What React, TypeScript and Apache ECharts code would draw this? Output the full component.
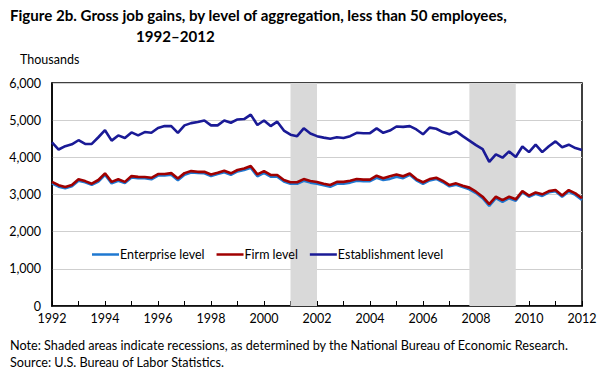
import React, { useEffect, useRef } from "react";
import * as echarts from "echarts";

const START_YEAR = 1992;
const yTicks = [0, 1000, 2000, 3000, 4000, 5000, 6000];
const seriesNames = ["Enterprise level", "Firm level", "Establishment level"];
const recessions = [
  [2001.0, 2002.0],
  [2007.75, 2009.5],
];

// Quarterly values, thousands, first value at 1992
const enterprise = [
  3300, 3210, 3170, 3220, 3370, 3330, 3260, 3350, 3530, 3300, 3370, 3310, 3460, 3440, 3440, 3410,
  3510, 3510, 3530, 3380, 3530, 3590, 3580, 3570, 3500, 3550, 3600, 3530, 3620, 3660, 3720, 3490,
  3580, 3480, 3480, 3350, 3290, 3290, 3370, 3320, 3290, 3250, 3210, 3290, 3290, 3320, 3370, 3360,
  3360, 3450, 3390, 3420, 3480, 3440, 3530, 3380, 3290, 3380, 3420, 3330, 3220, 3260, 3200, 3140,
  3040, 2900, 2690, 2900, 2800, 2900, 2830, 3060, 2940, 3020, 2960, 3060, 3090, 2940, 3080, 2990,
  2850,
];
const firm = [
  3340, 3250, 3200, 3255, 3410, 3360, 3290, 3390, 3570, 3340, 3410, 3340, 3495, 3475, 3470, 3450,
  3550, 3550, 3575, 3430, 3575, 3630, 3610, 3610, 3540, 3585, 3640, 3570, 3660, 3700, 3765, 3540,
  3630, 3525, 3525, 3390, 3330, 3330, 3415, 3365, 3335, 3290, 3255, 3340, 3340, 3370, 3415, 3400,
  3400, 3505, 3435, 3490, 3540, 3490, 3565, 3415, 3330, 3415, 3450, 3365, 3255, 3300, 3235, 3185,
  3075, 2940, 2740, 2940, 2850, 2940, 2870, 3090, 2970, 3055, 3005, 3090, 3120, 2970, 3120, 3030,
  2900,
];
const establishment = [
  4400, 4210, 4300, 4350, 4460, 4360, 4360, 4540, 4730, 4450, 4590, 4520, 4670, 4590, 4680, 4660,
  4790, 4840, 4840, 4660, 4860, 4920, 4950, 4990, 4860, 4860, 4990, 4930, 5020, 5030, 5150, 4870,
  4990, 4840, 4960, 4720, 4610, 4570, 4780, 4640, 4570, 4530, 4500, 4540, 4520, 4570, 4660, 4650,
  4650, 4780, 4660, 4720, 4830, 4820, 4840, 4750, 4620, 4800, 4770, 4680, 4620, 4700, 4570, 4450,
  4330, 4220, 3880, 4080, 3990, 4160, 4010, 4290, 4140, 4340, 4140, 4300, 4430, 4270, 4340, 4250,
  4200,
];

const toPoints = (vals: number[]) => vals.map((v, i) => [START_YEAR + i / 4, v]);

const FONT = "Lato";

export default function App() {
  const ref = useRef<HTMLDivElement>(null);
  useEffect(() => {
    if (!ref.current) return;
    const chart = echarts.init(ref.current, null, { renderer: "svg" });
    const colors = ["#1f78d1", "#a00000", "#1a1a96"];
    const data = [enterprise, firm, establishment];
    chart.setOption({
      animation: false,
      textStyle: { fontFamily: FONT },
      grid: { left: 52, right: 22, top: 83, bottom: 67, show: true, borderColor: "#000", borderWidth: 1.5, backgroundColor: "transparent" },
      legend: {
        left: 87,
        top: 243,
        icon: "rect",
        itemWidth: 27,
        itemHeight: 2.5,
        itemGap: 12,
        textStyle: { fontFamily: FONT, fontSize: 12.5, color: "#000", padding: [0, 0, 0, -4] },
        data: seriesNames,
      },
      xAxis: {
        type: "value",
        min: 1992,
        max: 2012,
        interval: 1,
        axisLine: { show: true, lineStyle: { color: "#000", width: 1.5 } },
        axisTick: { show: true, inside: true, length: 5, lineStyle: { color: "#000", width: 1 } },
        splitLine: { show: false },
        axisLabel: {
          color: "#000",
          fontFamily: FONT,
          fontSize: 12.5,
          margin: 6,
          formatter: (v: number) => (Math.round(v) % 2 === 0 ? String(Math.round(v)) : ""),
        },
      },
      yAxis: {
        type: "value",
        min: yTicks[0],
        max: yTicks[yTicks.length - 1],
        interval: 1000,
        axisLine: { show: true, lineStyle: { color: "#000", width: 1.5 } },
        axisTick: { show: false },
        splitLine: { show: true, lineStyle: { color: "#cfcfcf", width: 1 } },
        axisLabel: {
          color: "#000",
          fontFamily: FONT,
          fontSize: 12.5,
          margin: 11,
          formatter: (v: number) => v.toLocaleString("en-US"),
        },
      },
      series: [
        {
          type: "line",
          name: "__recession",
          data: [],
          silent: true,
          markArea: {
            silent: true,
            itemStyle: { color: "#d9d9d9" },
            data: recessions.map(([a, b]) => [{ xAxis: a }, { xAxis: b }]),
          },
          z: 1,
        },
        ...seriesNames.map((name, k) => ({
          type: "line",
          name,
          data: toPoints(data[k]),
          showSymbol: false,
          symbol: "none",
          lineStyle: { color: colors[k], width: 2.6 },
          itemStyle: { color: colors[k] },
          z: k === 1 ? 4 : 3,
        })),
      ],
      graphic: [
        {
          type: "text",
          left: 10,
          top: 7,
          style: {
            text: "Figure 2b. Gross job gains, by level of aggregation, less than 50 employees,",
            font: `bold 15.1px ${FONT}`,
            fill: "#000",
          },
        },
        {
          type: "text",
          left: 136,
          top: 28,
          style: { text: "1992–2012", font: `bold 15.1px ${FONT}`, fill: "#000" },
        },
        {
          type: "text",
          left: 20,
          top: 53,
          style: { text: "Thousands", font: `12.5px ${FONT}`, fill: "#000" },
        },
        {
          type: "text",
          left: 10,
          top: 339,
          style: {
            text: "Note: Shaded areas indicate recessions, as determined by the National Bureau of Economic Research.",
            font: `12.65px ${FONT}`,
            fill: "#000",
          },
        },
        {
          type: "text",
          left: 10,
          top: 356,
          style: { text: "Source: U.S. Bureau of Labor Statistics.", font: `12.65px ${FONT}`, fill: "#000" },
        },
      ],
    });
    return () => chart.dispose();
  }, []);
  return <div ref={ref} style={{ position: "fixed", left: 0, top: 0, width: 604, height: 373, background: "#fff" }} />;
}
